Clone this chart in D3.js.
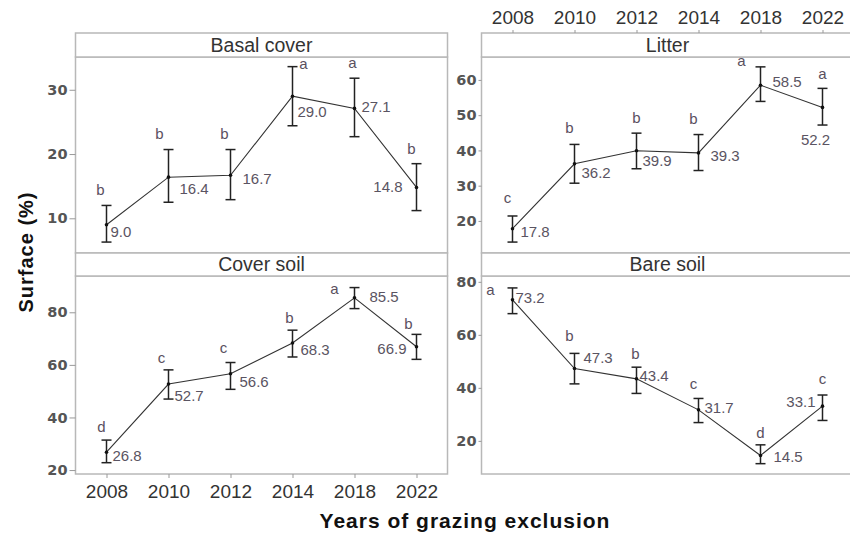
<!DOCTYPE html>
<html>
<head>
<meta charset="utf-8">
<script src="https://cdn.jsdelivr.net/npm/d3@7"></script>
<style>
  body { margin: 0; background: #fff; }
  svg { display: block; }
</style>
</head>
<body>
<div id="chart"></div>
<script>
// data
var years = ['2008', '2010', '2012', '2014', '2018', '2022'];

var basalMean = [9.0, 16.4, 16.7, 29.0, 27.1, 14.8];
var basalLow = [6.3, 12.5, 12.9, 24.4, 22.7, 11.2];
var basalHigh = [12.0, 20.7, 20.7, 33.6, 31.8, 18.5];
var basalLetters = ['b', 'b', 'b', 'a', 'a', 'b'];

var litterMean = [17.8, 36.2, 39.9, 39.3, 58.5, 52.2];
var litterLow = [14.0, 30.7, 34.8, 34.3, 53.9, 47.2];
var litterHigh = [21.4, 41.7, 44.9, 44.5, 63.7, 57.6];
var litterLetters = ['c', 'b', 'b', 'b', 'a', 'a'];

var coverMean = [26.8, 52.7, 56.6, 68.3, 85.5, 66.9];
var coverLow = [22.8, 47.0, 50.7, 63.0, 81.4, 62.1];
var coverHigh = [31.4, 58.1, 60.9, 73.2, 89.4, 71.6];
var coverLetters = ['d', 'c', 'c', 'b', 'a', 'b'];

var bareMean = [73.2, 47.3, 43.4, 31.7, 14.5, 33.1];
var bareLow = [68.0, 41.5, 37.9, 26.9, 11.4, 27.7];
var bareHigh = [77.7, 53.0, 47.8, 36.0, 18.5, 37.3];
var bareLetters = ['a', 'b', 'b', 'c', 'd', 'c'];

// label nudges (dx, dy, anchor) so text does not sit on the bars
var basalValPos = [[4, 12], [11, 17], [12, 9], [5, 21], [7, 4], [-14, 5, 'end']];
var basalLetPos = [[-6, -10], [-9, -11], [-6, -11], [11, 2], [-2, -10], [-5, -10]];
var litterValPos = [[8, 8], [7, 14], [6, 15], [12, 8], [12, 2], [-7, 38, 'middle']];
var litterLetPos = [[-5, -13], [-5, -11], [0, -10], [-5, -11], [-19, -1], [0, -9]];
var coverValPos = [[6, 9], [6, 17], [9, 13], [8, 12], [15, 4], [-10, 7, 'end']];
var coverLetPos = [[-5, -8], [-7, -7], [-7, -10], [-3, -7], [-20, 6], [-8, -5]];
var bareValPos = [[3, 3], [9, -6], [3, 2], [6, 3], [13, 7], [-7, 1, 'end']];
var bareLetPos = [[-22, 7], [-5, -12], [-1, -8], [-5, -9], [0, -7], [0, -11]];

var W = 850, H = 534;
var svg = d3.select('#chart').append('svg').attr('width', W).attr('height', H);

var panels = [
  {title: 'Basal cover', mean: basalMean, low: basalLow, high: basalHigh, letters: basalLetters,
   valPos: basalValPos, letPos: basalLetPos, domain: [4.6, 35.1], ticks: [10, 20, 30],
   x0: 75.5, x1: 447.5, top: 33, strip: 57, bottom: 253, tick: 6},
  {title: 'Litter', mean: litterMean, low: litterLow, high: litterHigh, letters: litterLetters,
   valPos: litterValPos, letPos: litterLetPos, domain: [10.9, 66.5], ticks: [20, 30, 40, 50, 60],
   x0: 481.5, x1: 853.5, top: 33, strip: 57, bottom: 253, tick: 3},
  {title: 'Cover soil', mean: coverMean, low: coverLow, high: coverHigh, letters: coverLetters,
   valPos: coverValPos, letPos: coverLetPos, domain: [18.5, 93.8], ticks: [20, 40, 60, 80],
   x0: 75.5, x1: 447.5, top: 253, strip: 276, bottom: 474, tick: 6},
  {title: 'Bare soil', mean: bareMean, low: bareLow, high: bareHigh, letters: bareLetters,
   valPos: bareValPos, letPos: bareLetPos, domain: [7.5, 82.2], ticks: [20, 40, 60, 80],
   x0: 481.5, x1: 853.5, top: 253, strip: 276, bottom: 474, tick: 3}
];

var lineGen = d3.line();

panels.forEach(function(p) {
  var x = d3.scalePoint().domain(years).range([p.x0, p.x1]).padding(0.5);
  var y = d3.scaleLinear().domain(p.domain).range([p.bottom, p.strip]);
  p.x = x;

  var g = svg.append('g');

  // panel frame and strip
  g.append('rect')
    .attr('x', p.x0).attr('y', p.strip)
    .attr('width', p.x1 - p.x0).attr('height', p.bottom - p.strip)
    .style('fill', 'none').style('stroke', '#b8b8b8').style('stroke-width', 1.5);
  g.append('rect')
    .attr('x', p.x0).attr('y', p.top)
    .attr('width', p.x1 - p.x0).attr('height', p.strip - p.top)
    .style('fill', '#fff').style('stroke', '#b8b8b8').style('stroke-width', 1.5);
  g.append('text')
    .attr('x', (p.x0 + p.x1) / 2)
    .attr('y', p.strip - 5)
    .attr('text-anchor', 'middle')
    .style('font-family', 'Liberation Sans, Arial, sans-serif')
    .style('font-size', '19.5px')
    .style('fill', '#333')
    .text(p.title);

  // y axis
  var yAxis = d3.axisLeft(y).tickValues(p.ticks).tickSize(p.tick).tickPadding(2);
  var ya = g.append('g').attr('transform', 'translate(' + p.x0 + ',0)').call(yAxis);
  ya.select('.domain').remove();
  ya.selectAll('line').style('stroke', '#999');
  ya.selectAll('text')
    .style('font-family', 'DejaVu Sans, Verdana, sans-serif')
    .style('font-weight', 'bold')
    .style('font-size', '14.5px')
    .style('fill', '#555');

  var rows = years.map(function(yr, i) {
    return {year: yr, mean: p.mean[i], low: p.low[i], high: p.high[i], letter: p.letters[i],
            vp: p.valPos[i], lp: p.letPos[i]};
  });

  // mean line
  g.append('path')
    .attr('d', lineGen(rows.map(function(d) { return [x(d.year), y(d.mean)]; })))
    .style('fill', 'none').style('stroke', '#333').style('stroke-width', 1.1);

  // error bars
  var eb = g.selectAll('.eb').data(rows).join('g').attr('class', 'eb');
  eb.append('line')
    .attr('x1', d => x(d.year)).attr('x2', d => x(d.year))
    .attr('y1', d => y(d.low)).attr('y2', d => y(d.high));
  eb.append('line')
    .attr('x1', d => x(d.year) - 5).attr('x2', d => x(d.year) + 5)
    .attr('y1', d => y(d.high)).attr('y2', d => y(d.high));
  eb.append('line')
    .attr('x1', d => x(d.year) - 5).attr('x2', d => x(d.year) + 5)
    .attr('y1', d => y(d.low)).attr('y2', d => y(d.low));
  eb.selectAll('line').style('stroke', '#222').style('stroke-width', 1.5);
  eb.append('circle')
    .attr('cx', d => x(d.year)).attr('cy', d => y(d.mean)).attr('r', 1.8)
    .style('fill', '#111');

  // mean values
  g.selectAll('.val').data(rows).join('text')
    .attr('class', 'val')
    .attr('x', d => x(d.year) + d.vp[0])
    .attr('y', d => y(d.mean) + d.vp[1])
    .attr('text-anchor', d => d.vp[2] || 'start')
    .style('font-family', 'Liberation Sans, Arial, sans-serif')
    .style('font-size', '15px')
    .style('fill', '#5a5462')
    .text(d => d.mean.toFixed(1));

  // group letters
  g.selectAll('.let').data(rows).join('text')
    .attr('class', 'let')
    .attr('x', d => x(d.year) + d.lp[0])
    .attr('y', d => y(d.high) + d.lp[1])
    .attr('text-anchor', 'middle')
    .style('font-family', 'Liberation Sans, Arial, sans-serif')
    .style('font-size', '15px')
    .style('fill', '#5a5060')
    .text(d => d.letter);
});

// shared year axes: top of right column, bottom of left column
function styleYearAxis(sel) {
  sel.select('.domain').remove();
  sel.selectAll('line').style('stroke', '#999');
  sel.selectAll('text')
    .style('font-family', 'Liberation Sans, Arial, sans-serif')
    .style('font-size', '19px')
    .style('fill', '#333');
}
svg.append('g').attr('transform', 'translate(0,33)')
  .call(d3.axisTop(panels[1].x).tickSize(3).tickPadding(6))
  .call(styleYearAxis);
svg.append('g').attr('transform', 'translate(0,474)')
  .call(d3.axisBottom(panels[2].x).tickSize(4).tickPadding(7))
  .call(styleYearAxis);

// axis titles
svg.append('text')
  .attr('transform', 'translate(33,252) rotate(-90)')
  .attr('text-anchor', 'middle')
  .style('font-family', 'Liberation Sans, Arial, sans-serif')
  .style('font-weight', 'bold')
  .style('font-size', '20px')
  .style('letter-spacing', '1px')
  .style('fill', '#111')
  .text('Surface (%)');
svg.append('text')
  .attr('x', 465).attr('y', 528)
  .attr('text-anchor', 'middle')
  .style('font-family', 'Liberation Sans, Arial, sans-serif')
  .style('font-weight', 'bold')
  .style('font-size', '21px')
  .style('letter-spacing', '1px')
  .style('fill', '#111')
  .text('Years of grazing exclusion');
</script>
</body>
</html>
